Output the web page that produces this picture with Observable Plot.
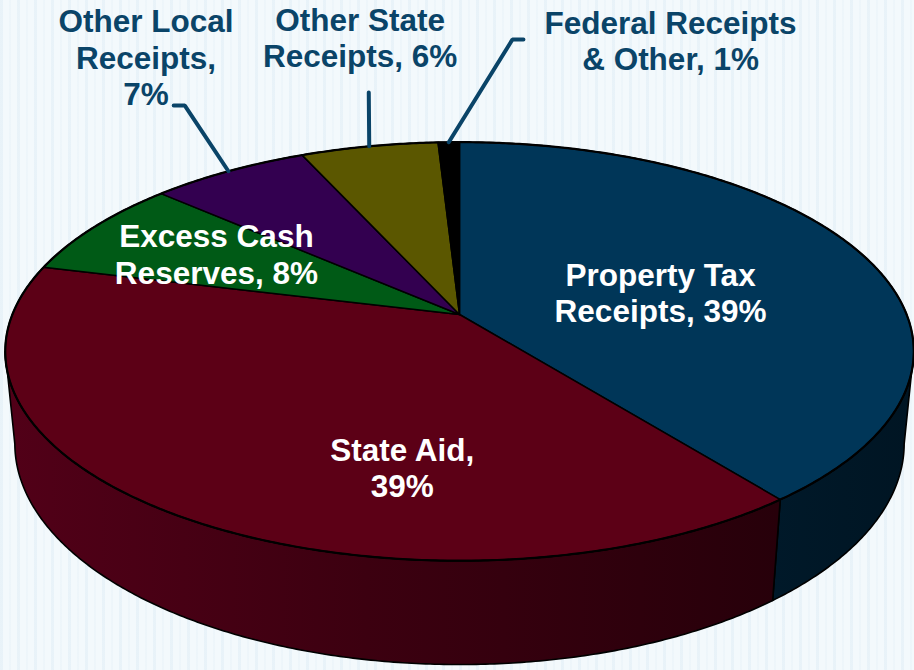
<!DOCTYPE html>
<html>
<head>
<meta charset="utf-8">
<script src="https://cdn.jsdelivr.net/npm/d3@7"></script>
<script src="https://cdn.jsdelivr.net/npm/@observablehq/plot@0.6"></script>
<style>
  html, body { margin: 0; padding: 0; }
  body {
    width: 914px; height: 670px; overflow: hidden;
    background-color: #f3f9fc;
    background-image: repeating-linear-gradient(90deg, rgba(196,220,236,0.22) 0px, rgba(196,220,236,0.22) 3px, rgba(255,255,255,0) 3px, rgba(255,255,255,0) 9px, rgba(210,228,240,0.16) 9px, rgba(210,228,240,0.16) 11px, rgba(255,255,255,0) 11px, rgba(255,255,255,0) 17px);
  }
  #chart svg { display: block; }
</style>
</head>
<body>
<div id="chart"></div>
<script>
// ---------- data ----------
const categories = ["Property Tax Receipts", "State Aid", "Excess Cash Reserves",
                    "Other Local Receipts", "Other State Receipts", "Federal Receipts & Other"];
const shares = [39.4, 39.5, 7.7, 6.7, 5.8, 0.9];
const labelNames = ["Property Tax\nReceipts", "State Aid", "Excess Cash\nReserves",
                    "Other Local\nReceipts", "Other State\nReceipts", "Federal Receipts\n& Other"];
const pctSeparators = [" ", "\n", " ", "\n", " ", " "];

// ---------- styles ----------
const topColors = ["#003658", "#5c0016", "#005a16", "#330050", "#5b5700", "#000000"];
const wallFills = ["url(#wallBlue)", "url(#wallRed)", "#00300b", "#1c002b", "#302e00", "#000000"];
const outerText = "#0a4468";
const FONT = "Liberation Sans, Arial, Helvetica, sans-serif";

// ---------- 3-D perspective view of the pie ----------
const D = 5.05, SIN = 0.4535, COS = 0.891, H = 0.233;
const F = 2258, CX = 459, CY = 314;          // pixels per projected unit, centre in px
const W = 914, HT = 670;
function proj(deg, rho, depth = 0) {
  const a = deg * Math.PI / 180;
  const u = rho * Math.sin(a), v = rho * Math.cos(a), y = -depth;
  const xc = u, yc = y * COS + v * SIN, zc = D + v * COS - y * SIN;
  return {X: xc / zc, Y: yc / zc};
}

const total = d3.sum(shares);
let acc = 0;
const slices = shares.map((v, i) => {
  const a0 = acc / total * 360; acc += v; const a1 = acc / total * 360;
  return {i, name: categories[i], value: v, a0, a1, mid: (a0 + a1) / 2};
});

const STEP = 0.5;
function arc(a0, a1, rho, depth) {
  const n = Math.max(2, Math.ceil((a1 - a0) / STEP) + 1);
  return d3.range(n).map(k => proj(a0 + (a1 - a0) * k / (n - 1), rho, depth));
}

// top faces
const topPolys = slices.map(s => {
  const c = proj(0, 0);
  return [c, ...arc(s.a0, s.a1, 1, 0), c];
});
// visible outer walls (front part of the cylinder)
const VIS0 = 100.1, VIS1 = 259.9;
const wallPolys = slices.map(s => {
  const a = Math.max(s.a0, VIS0), b = Math.min(s.a1, VIS1);
  if (a >= b) return null;
  const t = arc(a, b, 1, 0), bt = arc(a, b, 1, H).reverse();
  return [...t, ...bt, t[0]];
});

// labels
const labelPlace = [
  {a: 77.4, r: 0.469, inside: true},
  {a: 189.5, r: 0.683, inside: true},
  {a: 298.1, r: 0.6495, inside: true},
  {a: 330.9, r: 1.853, inside: false},
  {a: 350.7, r: 1.808, inside: false},
  {a: 19.36, r: 1.866, inside: false}
];
const labels = slices.map((s, i) => {
  const p = proj(labelPlace[i].a, labelPlace[i].r);
  return {X: p.X, Y: p.Y, inside: labelPlace[i].inside,
          text: labelNames[i] + "," + pctSeparators[i] + Math.round(s.value / total * 100) + "%"};
});
// leader lines: from the rim at slice mid-angle out to the label
const leaderBends = {3: [[329.2, 1.4662], [328.2, 1.4827]], 4: [[349.5, 1.380]], 5: [[4.99, 1.7896], [6.02, 1.7927]]};
const leaders = [];
for (const k of Object.keys(leaderBends)) {
  const s = slices[+k];
  const pts = [proj(s.mid, 1.0), ...leaderBends[k].map(([a, r]) => proj(a, r))];
  pts.forEach(p => leaders.push({...p, id: k}));
}

const defsMark = () => {
  const defs = d3.create("svg:defs");
  const red = defs.append("linearGradient").attr("id", "wallRed")
    .attr("gradientUnits", "userSpaceOnUse").attr("x1", 0).attr("x2", W).attr("y1", 0).attr("y2", 0);
  [["0%", "#520018"], ["40%", "#3c0010"], ["85%", "#27000a"], ["100%", "#24000a"]]
    .forEach(([o, c]) => red.append("stop").attr("offset", o).attr("stop-color", c));
  const blue = defs.append("linearGradient").attr("id", "wallBlue")
    .attr("gradientUnits", "userSpaceOnUse").attr("x1", 0).attr("x2", W).attr("y1", 0).attr("y2", 0);
  [["0%", "#00253c"], ["80%", "#001a2b"], ["100%", "#001523"]]
    .forEach(([o, c]) => blue.append("stop").attr("offset", o).attr("stop-color", c));
  return defs.node();
};

const marks = [defsMark];
wallPolys.forEach((poly, i) => {
  if (poly) marks.push(Plot.line(poly, {x: "X", y: "Y", fill: wallFills[i], stroke: "#000", strokeWidth: 1.6, strokeLinejoin: "round"}));
});
topPolys.forEach((poly, i) => {
  marks.push(Plot.line(poly, {x: "X", y: "Y", fill: topColors[i], stroke: "#000", strokeWidth: 1.5, strokeLinejoin: "round"}));
});
marks.push(Plot.line(arc(0, 360, 1, 0), {x: "X", y: "Y", stroke: "#000", strokeWidth: 2.2}));
marks.push(Plot.line(leaders, {x: "X", y: "Y", z: "id", stroke: outerText, strokeWidth: 4, strokeLinejoin: "miter"}));
marks.push(Plot.text(labels.filter(d => d.inside), {x: "X", y: "Y", text: "text", fill: "#ffffff", dy: -2,
  fontSize: 31.5, fontWeight: "bold", fontFamily: FONT, lineHeight: 1.16, textAnchor: "middle", lineAnchor: "middle"}));
marks.push(Plot.text(labels.filter(d => !d.inside), {x: "X", y: "Y", text: "text", fill: outerText, dy: -2,
  fontSize: 31.5, fontWeight: "bold", fontFamily: FONT, lineHeight: 1.16, textAnchor: "middle", lineAnchor: "middle"}));

const chart = Plot.plot({
  width: W, height: HT,
  marginTop: 0, marginRight: 0, marginBottom: 0, marginLeft: 0,
  x: {domain: [-CX / F, (W - CX) / F], axis: null},
  y: {domain: [(CY - HT) / F, CY / F], axis: null},
  style: {background: "transparent", overflow: "visible"},
  marks
});
document.getElementById("chart").appendChild(chart);
</script>
</body>
</html>
